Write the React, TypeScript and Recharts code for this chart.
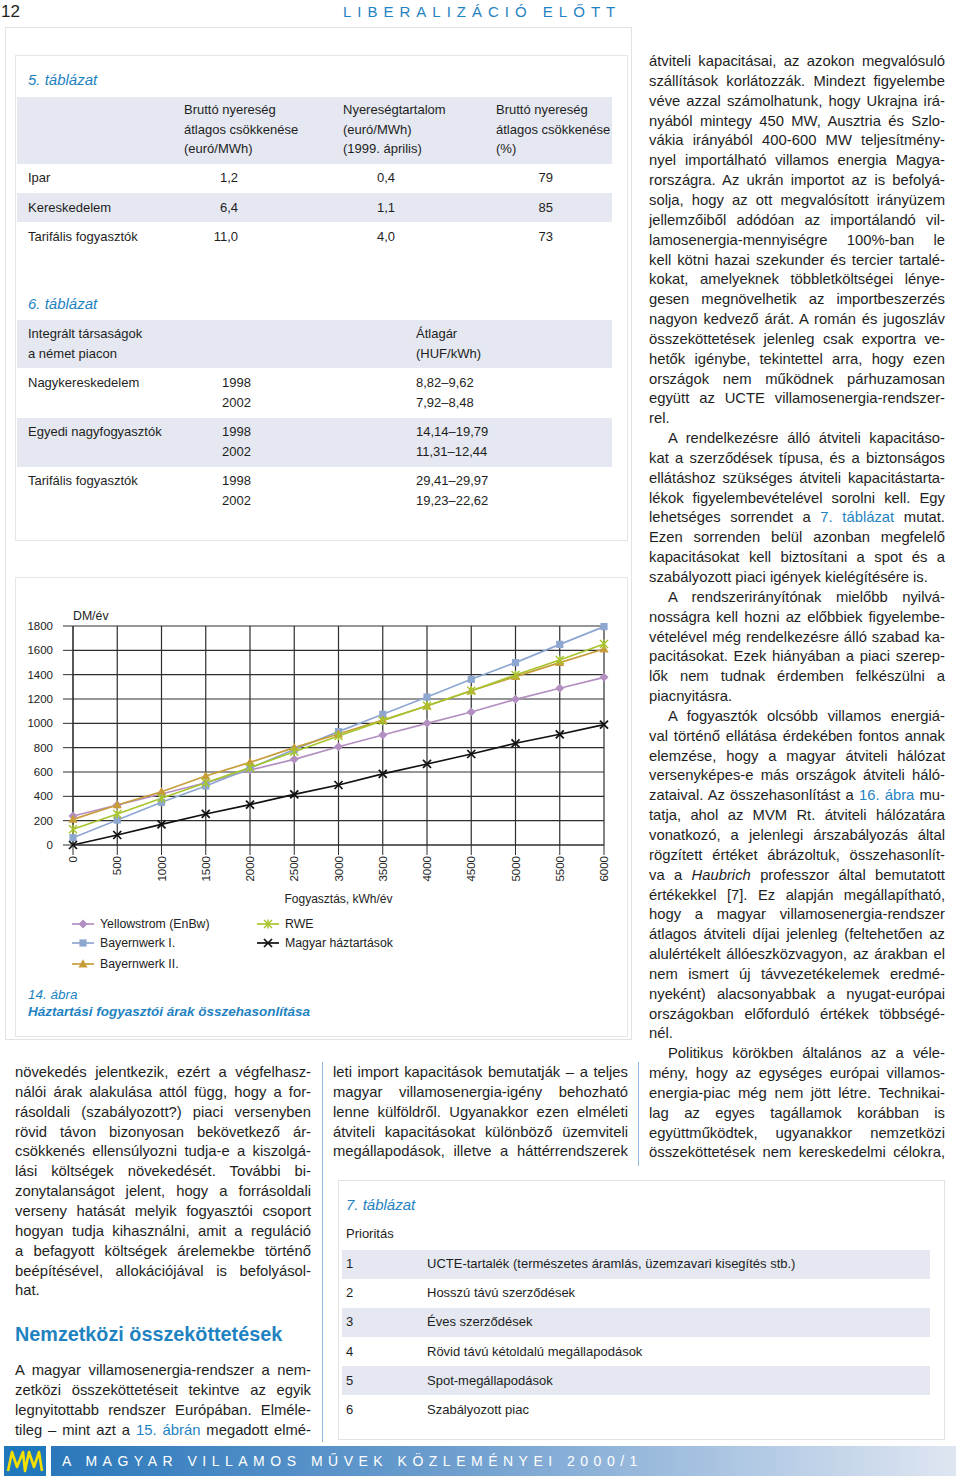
import React from 'react';
import { LineChart, Line, XAxis, YAxis, CartesianGrid, Legend } from 'recharts';

// 14. ábra – household prices, DM/év vs. consumption kWh/év
const consumption = [0, 500, 1000, 1500, 2000, 2500, 3000, 3500, 4000, 4500, 5000, 5500, 6000];
const yellowstrom = [238, 329, 419, 512, 616, 704, 808, 904, 1000, 1093, 1197, 1288, 1378];
const bayernwerk1 = [60, 205, 351, 485, 630, 785, 932, 1074, 1216, 1362, 1499, 1649, 1795];
const bayernwerk2 = [211, 329, 438, 567, 679, 800, 912, 1027, 1142, 1268, 1384, 1499, 1611];
const rwe = [129, 255, 384, 512, 636, 767, 896, 1022, 1145, 1268, 1397, 1521, 1652];
const magyar = [0, 82, 170, 255, 332, 416, 493, 584, 666, 748, 836, 910, 989];
const yTicks = [0, 200, 400, 600, 800, 1000, 1200, 1400, 1600, 1800];

const series = [
  { key: 'yellowstrom', name: 'Yellowstrom (EnBw)', color: '#b38fc1', marker: 'diamond' },
  { key: 'bayernwerk1', name: 'Bayernwerk I.', color: '#8ea7d1', marker: 'square' },
  { key: 'bayernwerk2', name: 'Bayernwerk II.', color: '#c79d3a', marker: 'triangle' },
  { key: 'rwe', name: 'RWE', color: '#a6c42c', marker: 'star' },
  { key: 'magyar', name: 'Magyar háztartások', color: '#111111', marker: 'cross' },
];

const chartData = consumption.map((kwh, i) => ({
  kwh,
  yellowstrom: yellowstrom[i],
  bayernwerk1: bayernwerk1[i],
  bayernwerk2: bayernwerk2[i],
  rwe: rwe[i],
  magyar: magyar[i],
}));

// tables
const table5Rows = [
  { label: 'Ipar', a: '1,2', b: '0,4', c: '79' },
  { label: 'Kereskedelem', a: '6,4', b: '1,1', c: '85' },
  { label: 'Tarifális fogyasztók', a: '11,0', b: '4,0', c: '73' },
];
const table6Rows = [
  { label: 'Nagykereskedelem', years: ['1998', '2002'], prices: ['8,82–9,62', '7,92–8,48'] },
  { label: 'Egyedi nagyfogyasztók', years: ['1998', '2002'], prices: ['14,14–19,79', '11,31–12,44'] },
  { label: 'Tarifális fogyasztók', years: ['1998', '2002'], prices: ['29,41–29,97', '19,23–22,62'] },
];
const table7Rows = [
  'UCTE-tartalék (természetes áramlás, üzemzavari kisegítés stb.)',
  'Hosszú távú szerződések',
  'Éves szerződések',
  'Rövid távú kétoldalú megállapodások',
  'Spot-megállapodások',
  'Szabályozott piac',
];

// body text, one entry per printed line; ">" indent, "|" end of paragraph,
// {..} blue cross reference, *..* italic
const rightCol = [
  'átviteli kapacitásai, az azokon megvalósuló',
  'szállítások korlátozzák. Mindezt figyelembe',
  'véve azzal számolhatunk, hogy Ukrajna irá-',
  'nyából mintegy 450 MW, Ausztria és Szlo-',
  'vákia irányából 400-600 MW teljesítmény-',
  'nyel importálható villamos energia Magya-',
  'rországra. Az ukrán importot az is befolyá-',
  'solja, hogy az ott megvalósított irányüzem',
  'jellemzőiből adódóan az importálandó vil-',
  'lamosenergia-mennyiségre 100%-ban le',
  'kell kötni hazai szekunder és tercier tartalé-',
  'kokat, amelyeknek többletköltségei lénye-',
  'gesen megnövelhetik az importbeszerzés',
  'nagyon kedvező árát. A román és jugoszláv',
  'összeköttetések jelenleg csak exportra ve-',
  'hetők igénybe, tekintettel arra, hogy ezen',
  'országok nem működnek párhuzamosan',
  'együtt az UCTE villamosenergia-rendszer-',
  'rel.|',
  '>A rendelkezésre álló átviteli kapacitáso-',
  'kat a szerződések típusa, és a biztonságos',
  'ellátáshoz szükséges átviteli kapacitástarta-',
  'lékok figyelembevételével sorolni kell. Egy',
  'lehetséges sorrendet a {7. táblázat} mutat.',
  'Ezen sorrenden belül azonban megfelelő',
  'kapacitásokat kell biztosítani a spot és a',
  'szabályozott piaci igények kielégítésére is.|',
  '>A rendszerirányítónak mielőbb nyilvá-',
  'nosságra kell hozni az előbbiek figyelembe-',
  'vételével még rendelkezésre álló szabad ka-',
  'pacitásokat. Ezek hiányában a piaci szerep-',
  'lők nem tudnak érdemben felkészülni a',
  'piacnyitásra.|',
  '>A fogyasztók olcsóbb villamos energiá-',
  'val történő ellátása érdekében fontos annak',
  'elemzése, hogy a magyar átviteli hálózat',
  'versenyképes-e más országok átviteli háló-',
  'zataival. Az összehasonlítást a {16. ábra} mu-',
  'tatja, ahol az MVM Rt. átviteli hálózatára',
  'vonatkozó, a jelenlegi árszabályozás által',
  'rögzített értéket ábrázoltuk, összehasonlít-',
  'va a *Haubrich* professzor által bemutatott',
  'értékekkel [7]. Ez alapján megállapítható,',
  'hogy a magyar villamosenergia-rendszer',
  'átlagos átviteli díjai jelenleg (feltehetően az',
  'alulértékelt állóeszközvagyon, az árakban el',
  'nem ismert új távvezetékelemek eredmé-',
  'nyeként) alacsonyabbak a nyugat-európai',
  'országokban előforduló értékek többségé-',
  'nél.|',
  '>Politikus körökben általános az a véle-',
  'mény, hogy az egységes európai villamos-',
  'energia-piac még nem jött létre. Technikai-',
  'lag az egyes tagállamok korábban is',
  'együttműködtek, ugyanakkor nemzetközi',
  'összeköttetések nem kereskedelmi célokra,',
];
const leftCol = [
  'növekedés jelentkezik, ezért a végfelhasz-',
  'nálói árak alakulása attól függ, hogy a for-',
  'rásoldali (szabályozott?) piaci versenyben',
  'rövid távon bizonyosan bekövetkező ár-',
  'csökkenés ellensúlyozni tudja-e a kiszolgá-',
  'lási költségek növekedését. További bi-',
  'zonytalanságot jelent, hogy a forrásoldali',
  'verseny hatását melyik fogyasztói csoport',
  'hogyan tudja kihasználni, amit a reguláció',
  'a befagyott költségek árelemekbe történő',
  'beépítésével, allokációjával is befolyásol-',
  'hat.|',
];
const leftCol2 = [
  'A magyar villamosenergia-rendszer a nem-',
  'zetközi összeköttetéseit tekintve az egyik',
  'legnyitottabb rendszer Európában. Elméle-',
  'tileg – mint azt a {15. ábrán} megadott elmé-',
];
const midCol = [
  'leti import kapacitások bemutatják – a teljes',
  'magyar villamosenergia-igény behozható',
  'lenne külföldről. Ugyanakkor ezen elméleti',
  'átviteli kapacitásokat különböző üzemviteli',
  'megállapodások, illetve a háttérrendszerek',
];

const FONT = "'Liberation Sans', Arial, Helvetica, sans-serif";
const BLUE = '#1f83c2';
const BAND = '#e5e8f1';
const TEXT = '#1e1e1e';
const LH = 19.85;

const renderInline = (s: string) =>
  s.split(/(\{[^}]+\}|\*[^*]+\*)/).map((part, i) => {
    if (part.startsWith('{')) return <span key={i} style={{ color: BLUE }}>{part.slice(1, -1)}</span>;
    if (part.startsWith('*')) return <i key={i}>{part.slice(1, -1)}</i>;
    return <React.Fragment key={i}>{part}</React.Fragment>;
  });

const TextCol = ({ x, y, w, lines }: { x: number; y: number; w: number; lines: string[] }) => (
  <div style={{ position: 'absolute', left: x, top: y, width: w, fontSize: 14.8, color: TEXT }}>
    {lines.map((raw, i) => {
      let s = raw;
      const indent = s.startsWith('>');
      if (indent) s = s.slice(1);
      const last = s.endsWith('|');
      if (last) s = s.slice(0, -1);
      const align = last ? 'left' : 'justify';
      return (
        <div
          key={i}
          style={{
            height: LH,
            lineHeight: LH + 'px',
            whiteSpace: 'nowrap',
            textAlign: align,
            textAlignLast: align,
            paddingLeft: indent ? 19 : 0,
          }}
        >
          {renderInline(s)}
        </div>
      );
    })}
  </div>
);

// absolutely placed single text line, centred vertically on cy
const T = ({ x, cy, children, style }: { x: number; cy: number; children: React.ReactNode; style?: React.CSSProperties }) => (
  <div style={{ position: 'absolute', left: x, top: cy - 10, height: 20, lineHeight: '20px', whiteSpace: 'nowrap', ...style }}>{children}</div>
);
const TR = ({ right, cy, children }: { right: number; cy: number; children: React.ReactNode }) => (
  <div style={{ position: 'absolute', left: right - 80, width: 80, top: cy - 10, height: 20, lineHeight: '20px', textAlign: 'right' }}>{children}</div>
);
const Band = ({ x, y, w, h }: { x: number; y: number; w: number; h: number }) => (
  <div style={{ position: 'absolute', left: x, top: y, width: w, height: h, background: BAND }} />
);

const Marker = ({ type, cx, cy, color }: { type: string; cx: number; cy: number; color: string }) => {
  if (cx == null || cy == null) return null;
  switch (type) {
    case 'diamond':
      return <polygon points={`${cx},${cy - 4.5} ${cx + 4.5},${cy} ${cx},${cy + 4.5} ${cx - 4.5},${cy}`} fill={color} />;
    case 'square':
      return <rect x={cx - 3.6} y={cy - 3.6} width={7.2} height={7.2} fill={color} />;
    case 'triangle':
      return <polygon points={`${cx},${cy - 4.8} ${cx + 4.6},${cy + 3.4} ${cx - 4.6},${cy + 3.4}`} fill={color} />;
    case 'star':
      return (
        <g stroke={color} strokeWidth={1.5}>
          <line x1={cx - 4} y1={cy - 4} x2={cx + 4} y2={cy + 4} />
          <line x1={cx - 4} y1={cy + 4} x2={cx + 4} y2={cy - 4} />
          <line x1={cx} y1={cy - 4.5} x2={cx} y2={cy + 4.5} />
        </g>
      );
    default:
      return (
        <g stroke={color} strokeWidth={1.7}>
          <line x1={cx - 4} y1={cy - 4} x2={cx + 4} y2={cy + 4} />
          <line x1={cx - 4} y1={cy + 4} x2={cx + 4} y2={cy - 4} />
        </g>
      );
  }
};

const XTick = (props: any) => {
  const { x, y, payload } = props;
  return (
    <text x={x} y={y} transform={`rotate(-90 ${x} ${y})`} textAnchor="end" dominantBaseline="central" fontSize={11.5} fill="#222" fontFamily={FONT}>
      {payload.value}
    </text>
  );
};

const legendPos = [
  { left: 57, top: 12 },
  { left: 57, top: 31 },
  { left: 57, top: 52 },
  { left: 242, top: 12 },
  { left: 242, top: 31 },
];

const ChartLegend = () => (
  <div style={{ position: 'relative', width: 610, height: 65, fontFamily: FONT, fontSize: 12.3, color: '#222' }}>
    {series.map((s, i) => (
      <div key={s.key} style={{ position: 'absolute', left: legendPos[i].left, top: legendPos[i].top - 8, height: 16, display: 'flex', alignItems: 'center', whiteSpace: 'nowrap' }}>
        <svg width={22} height={12} style={{ marginRight: 6 }}>
          <line x1={0} y1={6} x2={22} y2={6} stroke={s.color} strokeWidth={1.7} />
          <Marker type={s.marker} cx={11} cy={6} color={s.color} />
        </svg>
        <span>{s.name}</span>
      </div>
    ))}
  </div>
);

const PriceChart = () => (
  <LineChart width={610} height={380} data={chartData} margin={{ top: 26, right: 21, bottom: 77, left: 0 }}>
    <CartesianGrid stroke="#2e2e2e" strokeWidth={1.2} />
    <XAxis
      dataKey="kwh"
      type="number"
      domain={[0, 6000]}
      ticks={consumption}
      interval={0}
      height={58}
      tickSize={10}
      tickMargin={1}
      tick={<XTick />}
      stroke="#2e2e2e"
      label={{ value: 'Fogyasztás, kWh/év', position: 'insideBottom', offset: 0, fontSize: 12, fill: '#222', fontFamily: FONT }}
    />
    <YAxis
      type="number"
      domain={[0, 1800]}
      ticks={yTicks}
      interval={0}
      width={58}
      tickSize={10}
      tickMargin={10}
      stroke="#2e2e2e"
      tick={{ fontSize: 11.5, fill: '#222', fontFamily: FONT }}
      label={{
        content: (p: any) => (
          <text x={p.viewBox.x + p.viewBox.width} y={p.viewBox.y - 10} fontSize={12.3} fill="#222" fontFamily={FONT} dominantBaseline="central">
            DM/év
          </text>
        ),
      }}
    />
    <Legend verticalAlign="middle" align="center" layout="horizontal" wrapperStyle={{ left: 0, top: 312, width: 610 }} content={<ChartLegend />} />
    {series.map((s) => (
      <Line
        key={s.key}
        type="linear"
        dataKey={s.key}
        name={s.name}
        stroke={s.color}
        strokeWidth={1.7}
        isAnimationActive={false}
        dot={(p: any) => <Marker key={`${s.key}-${p.index}`} type={s.marker} cx={p.cx} cy={p.cy} color={s.color} />}
        activeDot={false}
      />
    ))}
  </LineChart>
);

const App: React.FC = () => {
  const tbl: React.CSSProperties = { fontSize: 13, color: TEXT };
  return (
    <div style={{ position: 'absolute', left: 0, top: 0, width: 960, height: 1482, background: '#fff', fontFamily: FONT, color: TEXT, overflow: 'hidden' }}>
      {/* running head */}
      <T x={1} cy={12} style={{ fontSize: 17 }}>12</T>
      <T x={343} cy={12} style={{ fontSize: 15, color: BLUE, letterSpacing: 6 }}>LIBERALIZÁCIÓ ELŐTT</T>

      {/* figure frames */}
      <div style={{ position: 'absolute', left: 5, top: 27, width: 627, height: 1013, border: '1.5px solid #e3e3e3', boxSizing: 'border-box' }} />
      <div style={{ position: 'absolute', left: 15, top: 55, width: 613, height: 486, border: '1.5px solid #e6e6e6', boxSizing: 'border-box' }} />
      <div style={{ position: 'absolute', left: 15, top: 577, width: 613, height: 460, border: '1.5px solid #e6e6e6', boxSizing: 'border-box' }} />

      {/* 5. táblázat */}
      <T x={28} cy={80} style={{ fontSize: 15, color: BLUE, fontStyle: 'italic' }}>5. táblázat</T>
      <Band x={17} y={97} w={595} h={67} />
      <Band x={17} y={193} w={595} h={29} />
      <div style={tbl}>
        {['Bruttó nyereség', 'átlagos csökkenése', '(euró/MWh)'].map((t, i) => (
          <T key={'a' + i} x={184} cy={110 + i * 19.5}>{t}</T>
        ))}
        {['Nyereségtartalom', '(euró/MWh)', '(1999. április)'].map((t, i) => (
          <T key={'b' + i} x={343} cy={110 + i * 19.5}>{t}</T>
        ))}
        {['Bruttó nyereség', 'átlagos csökkenése', '(%)'].map((t, i) => (
          <T key={'c' + i} x={496} cy={110 + i * 19.5}>{t}</T>
        ))}
        {table5Rows.map((r, i) => (
          <React.Fragment key={r.label}>
            <T x={28} cy={178 + i * 29.5}>{r.label}</T>
            <TR right={238} cy={178 + i * 29.5}>{r.a}</TR>
            <TR right={395} cy={178 + i * 29.5}>{r.b}</TR>
            <TR right={553} cy={178 + i * 29.5}>{r.c}</TR>
          </React.Fragment>
        ))}
      </div>

      {/* 6. táblázat */}
      <T x={28} cy={304} style={{ fontSize: 15, color: BLUE, fontStyle: 'italic' }}>6. táblázat</T>
      <Band x={17} y={320} w={595} h={48} />
      <Band x={17} y={418} w={595} h={49} />
      <div style={tbl}>
        <T x={28} cy={334}>Integrált társaságok</T>
        <T x={28} cy={354}>a német piacon</T>
        <T x={416} cy={334}>Átlagár</T>
        <T x={416} cy={354}>(HUF/kWh)</T>
        {table6Rows.map((r, i) => (
          <React.Fragment key={r.label}>
            <T x={28} cy={383 + i * 49}>{r.label}</T>
            {r.years.map((y, j) => (
              <T key={y} x={222} cy={383 + i * 49 + j * 20}>{y}</T>
            ))}
            {r.prices.map((p, j) => (
              <T key={p} x={416} cy={383 + i * 49 + j * 20}>{p}</T>
            ))}
          </React.Fragment>
        ))}
      </div>

      {/* 14. ábra */}
      <div style={{ position: 'absolute', left: 15, top: 600, width: 610, height: 380 }}>
        <PriceChart />
      </div>
      <T x={28} cy={995} style={{ fontSize: 13.5, color: BLUE, fontStyle: 'italic' }}>14. ábra</T>
      <T x={28} cy={1012} style={{ fontSize: 13.5, color: BLUE, fontStyle: 'italic', fontWeight: 'bold' }}>Háztartási fogyasztói árak összehasonlítása</T>

      {/* body text */}
      <TextCol x={649} y={62 - LH / 2} w={296} lines={rightCol} />
      <TextCol x={15} y={1073 - LH / 2} w={296} lines={leftCol} />
      <T x={15} cy={1334} style={{ fontSize: 19.8, color: BLUE, fontWeight: 'bold' }}>Nemzetközi összeköttetések</T>
      <TextCol x={15} y={1371 - LH / 2} w={296} lines={leftCol2} />
      <TextCol x={333} y={1073 - LH / 2} w={295} lines={midCol} />
      <div style={{ position: 'absolute', left: 322, top: 1062, width: 1, height: 380, background: '#8fb8dc' }} />
      <div style={{ position: 'absolute', left: 638, top: 1062, width: 1, height: 104, background: '#8fb8dc' }} />

      {/* 7. táblázat */}
      <div style={{ position: 'absolute', left: 338, top: 1180, width: 607, height: 260, border: '1.5px solid #e3e3e3', boxSizing: 'border-box' }} />
      <T x={346} cy={1205} style={{ fontSize: 15, color: BLUE, fontStyle: 'italic' }}>7. táblázat</T>
      <div style={tbl}>
        <T x={346} cy={1234}>Prioritás</T>
        {table7Rows.map((t, i) => (
          <React.Fragment key={t}>
            {i % 2 === 0 && <Band x={342} y={1264 + i * 29.2 - 14.5} w={588} h={29} />}
            <T x={346} cy={1264 + i * 29.2}>{i + 1}</T>
            <T x={427} cy={1264 + i * 29.2}>{t}</T>
          </React.Fragment>
        ))}
      </div>

      {/* footer */}
      <div style={{ position: 'absolute', left: 4, top: 1446, width: 42, height: 30, background: '#1f78bb' }}>
        <svg width={42} height={30}>
          <polyline points="4,25 8,6 13,21 19,6 21,25 25,6 30,21 35,6 38,25" fill="none" stroke="#f4e000" strokeWidth={2.6} strokeLinejoin="round" />
        </svg>
      </div>
      <div style={{ position: 'absolute', left: 51, top: 1446, width: 905, height: 30, background: 'linear-gradient(to right, #2a78bb 0%, #6f9fcf 45%, #dfe6f2 100%)' }} />
      <T x={62} cy={1461} style={{ fontSize: 14, color: '#fff', letterSpacing: 5.5 }}>A MAGYAR VILLAMOS MŰVEK KÖZLEMÉNYEI 2000/1</T>
    </div>
  );
};

export default App;
